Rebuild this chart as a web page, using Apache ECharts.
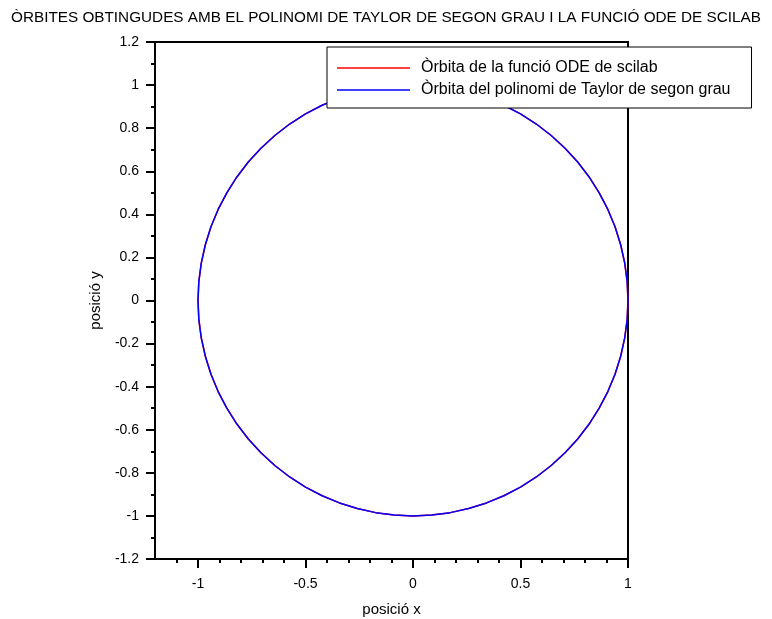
<!DOCTYPE html>
<html>
<head>
<meta charset="utf-8">
<script src="https://cdn.jsdelivr.net/npm/echarts@6/dist/echarts.min.js"></script>
<style>
  html, body { margin: 0; padding: 0; background: #fff; }
  #chart { width: 772px; height: 619px; }
</style>
</head>
<body>
<div id="chart"></div>
<script>
// Orbit samples (x, y), every 5 degrees starting from (1, 0), counter-clockwise.
// The ODE orbit and the second-order Taylor orbit coincide at this scale.
var orbitX = [
  1, 0.9962, 0.9848, 0.9659, 0.9397, 0.9063, 0.8660, 0.8192, 0.7660, 0.7071,
  0.6428, 0.5736, 0.5, 0.4226, 0.3420, 0.2588, 0.1736, 0.0872, 0,
  -0.0872, -0.1736, -0.2588, -0.3420, -0.4226, -0.5, -0.5736, -0.6428, -0.7071,
  -0.7660, -0.8192, -0.8660, -0.9063, -0.9397, -0.9659, -0.9848, -0.9962, -1,
  -0.9962, -0.9848, -0.9659, -0.9397, -0.9063, -0.8660, -0.8192, -0.7660, -0.7071,
  -0.6428, -0.5736, -0.5, -0.4226, -0.3420, -0.2588, -0.1736, -0.0872, 0,
  0.0872, 0.1736, 0.2588, 0.3420, 0.4226, 0.5, 0.5736, 0.6428, 0.7071,
  0.7660, 0.8192, 0.8660, 0.9063, 0.9397, 0.9659, 0.9848, 0.9962, 1
];
var orbitY = [
  0, 0.0872, 0.1736, 0.2588, 0.3420, 0.4226, 0.5, 0.5736, 0.6428, 0.7071,
  0.7660, 0.8192, 0.8660, 0.9063, 0.9397, 0.9659, 0.9848, 0.9962, 1,
  0.9962, 0.9848, 0.9659, 0.9397, 0.9063, 0.8660, 0.8192, 0.7660, 0.7071,
  0.6428, 0.5736, 0.5, 0.4226, 0.3420, 0.2588, 0.1736, 0.0872, 0,
  -0.0872, -0.1736, -0.2588, -0.3420, -0.4226, -0.5, -0.5736, -0.6428, -0.7071,
  -0.7660, -0.8192, -0.8660, -0.9063, -0.9397, -0.9659, -0.9848, -0.9962, -1,
  -0.9962, -0.9848, -0.9659, -0.9397, -0.9063, -0.8660, -0.8192, -0.7660, -0.7071,
  -0.6428, -0.5736, -0.5, -0.4226, -0.3420, -0.2588, -0.1736, -0.0872, 0
];

var seriesNames = [
  'Òrbita de la funció ODE de scilab',
  'Òrbita del polinomi de Taylor de segon grau'
];
var seriesColors = ['#ff0000', '#0000ff'];

// Axis ticks
var xMajorTicks = [-1, -0.5, 0, 0.5, 1];
var xMinorTicks = [-1.1, -0.9, -0.8, -0.7, -0.6, -0.4, -0.3, -0.2, -0.1,
                   0.1, 0.2, 0.3, 0.4, 0.6, 0.7, 0.8, 0.9];
var xRange = [-1.2, 1];
var yRange = [-1.2, 1.2];
var yStep = 0.2;

var titleText = 'ÒRBITES OBTINGUDES AMB EL POLINOMI DE TAYLOR DE SEGON GRAU I LA FUNCIÓ ODE DE SCILAB';
var xName = 'posició x';
var yName = 'posició y';

function pairs(xs, ys) {
  var out = [];
  for (var i = 0; i < xs.length; i++) out.push([xs[i], ys[i]]);
  return out;
}

var FONT = '"Liberation Sans", Arial, sans-serif';
var chart = echarts.init(document.getElementById('chart'), null, { renderer: 'canvas' });

chart.setOption({
  animation: false,
  backgroundColor: '#ffffff',
  textStyle: { fontFamily: FONT, color: '#000' },
  title: {
    text: titleText,
    left: 'center',
    top: 10,
    padding: 0,
    textStyle: { fontFamily: FONT, fontSize: 15.3, fontWeight: 'normal', color: '#000' }
  },
  legend: {
    orient: 'vertical',
    left: 327,
    top: 47,
    padding: [13, 21, 10, 10],
    itemGap: 6,
    itemWidth: 73,
    itemHeight: 1.5,
    icon: 'rect',
    backgroundColor: '#ffffff',
    borderColor: '#000',
    borderWidth: 1,
    textStyle: { fontFamily: FONT, fontSize: 16, lineHeight: 16, color: '#000', padding: [0, 0, 0, 6] },
    data: seriesNames
  },
  grid: {
    left: 155,
    right: 144,
    top: 42,
    bottom: 60,
    outerBoundsMode: 'none',
    show: true,
    borderColor: '#000',
    borderWidth: 2,
    backgroundColor: 'transparent'
  },
  xAxis: [
    {
      type: 'value',
      min: xRange[0],
      max: xRange[1],
      name: xName,
      nameLocation: 'middle',
      nameGap: 43,
      nameTextStyle: { fontFamily: FONT, fontSize: 15, color: '#000' },
      axisLine: { show: true, onZero: false, lineStyle: { color: '#000', width: 2 } },
      axisTick: { show: true, inside: false, length: 9, customValues: xMajorTicks,
                  lineStyle: { color: '#000', width: 2 } },
      axisLabel: { show: true, margin: 18, customValues: xMajorTicks,
                   fontFamily: FONT, fontSize: 14, color: '#000' },
      splitLine: { show: false }
    },
    {
      type: 'value',
      min: xRange[0],
      max: xRange[1],
      position: 'bottom',
      axisLine: { show: false, onZero: false },
      axisTick: { show: true, inside: false, length: 4, customValues: xMinorTicks,
                  lineStyle: { color: '#000', width: 2 } },
      axisLabel: { show: false },
      splitLine: { show: false }
    }
  ],
  yAxis: {
    type: 'value',
    min: yRange[0],
    max: yRange[1],
    interval: yStep,
    name: yName,
    nameLocation: 'middle',
    nameGap: 52,
    nameRotate: 90,
    nameTextStyle: { fontFamily: FONT, fontSize: 15, color: '#000' },
    axisLine: { show: true, onZero: false, lineStyle: { color: '#000', width: 2 } },
    axisTick: { show: true, inside: false, length: 9, lineStyle: { color: '#000', width: 2 } },
    minorTick: { show: true, splitNumber: 2, length: 4, lineStyle: { color: '#000', width: 2 } },
    axisLabel: { show: true, margin: 16, fontFamily: FONT, fontSize: 14, color: '#000' },
    splitLine: { show: false },
    minorSplitLine: { show: false }
  },
  series: [
    {
      name: seriesNames[0],
      type: 'line',
      xAxisIndex: 0,
      data: pairs(orbitX, orbitY),
      symbol: 'none',
      smooth: false,
      color: seriesColors[0],
      lineStyle: { color: seriesColors[0], width: 1.5 },
      z: 2
    },
    {
      name: seriesNames[1],
      type: 'line',
      xAxisIndex: 0,
      data: pairs(orbitX, orbitY),
      symbol: 'none',
      smooth: false,
      color: seriesColors[1],
      lineStyle: { color: seriesColors[1], width: 1.5 },
      z: 3
    }
  ]
});
</script>
</body>
</html>
